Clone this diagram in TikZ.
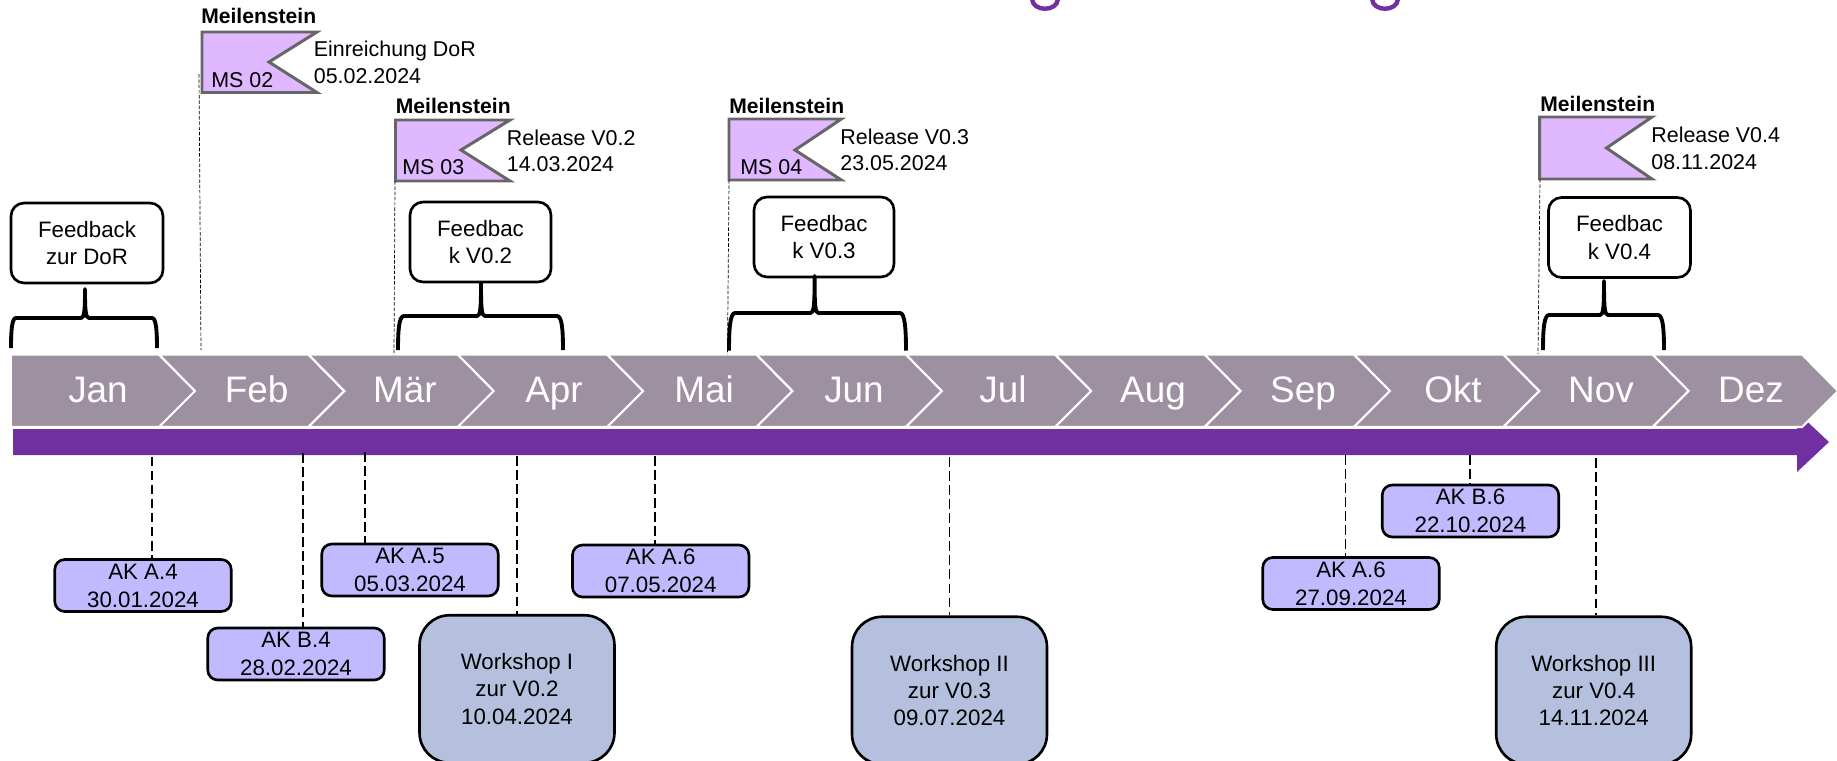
\documentclass[tikz,border=0pt]{standalone}
\usepackage{fontspec}
\setmainfont{Liberation Sans}

\definecolor{monthgrey}{HTML}{9D90A0}
\definecolor{arrowpurple}{HTML}{7030A0}
\definecolor{flagpurple}{HTML}{E0B8FF}
\definecolor{flagedge}{HTML}{666666}
\definecolor{akblue}{HTML}{C2BAFF}
\definecolor{workshopblue}{HTML}{B4C0DE}

\tikzset{
	month/.style={fill=monthgrey,draw=white,line width=1.2pt},
	monthlabel/.style={anchor=base,inner sep=0pt,text=white,font=\fontsize{21}{25}\selectfont},
	flag/.style={fill=flagpurple,draw=flagedge,line width=1.7pt},
	flagtitle/.style={anchor=west,inner sep=0pt,font=\fontsize{12}{14}\selectfont\bfseries},
	flagtext/.style={anchor=west,inner sep=0pt,align=left,font=\fontsize{12.2}{15}\selectfont},
	flagcode/.style={anchor=west,inner sep=0pt,font=\fontsize{12.2}{15}\selectfont},
	textbox/.style={draw=black,line width=1.5pt,inner sep=0pt,align=center,font=\fontsize{12.7}{15.5}\selectfont},
	feedback/.style={textbox,fill=white,rounded corners=0.26cm,minimum height=1.6cm},
	akbox/.style={textbox,fill=akblue,rounded corners=0.2cm,minimum width=3.53cm,minimum height=1.04cm,font=\fontsize{12.7}{16}\selectfont},
	workshop/.style={textbox,fill=workshopblue,rounded corners=0.6cm,minimum width=3.9cm,minimum height=2.95cm},
	leader/.style={draw=black,line width=0.9pt,dash pattern=on 5.5pt off 2.5pt},
	flagline/.style={draw=black,line width=0.4pt,dash pattern=on 2pt off 1pt},
	bracket/.style={draw=black,line width=2.2pt,line join=round},
	titlerest/.style={draw=arrowpurple,line width=2.5pt},
}

\begin{document}
\begin{tikzpicture}[x=0.02cm,y=-0.02cm]
	\useasboundingbox (0,0) rectangle (1837,761);

	% title remains
	\draw[titlerest] (1032,-6) -- (1032,-1) .. controls (1033,12) and (1057,12) .. (1058,-1) -- (1058,-6);
	\draw[titlerest] (1372,-6) -- (1372,-1) .. controls (1373,12) and (1397,12) .. (1398,-1) -- (1398,-6);

	% time arrow
	\fill[arrowpurple] (13,429) -- (1797,429) -- (1797,412) -- (1829,442) -- (1797,472) -- (1797,455) -- (13,455) -- cycle;

	% months
	\draw[month] (10.7,354.5) -- (159,354.5) -- (195,391) -- (159,427) -- (10.7,427) -- cycle;
	\draw[month] (159,354.5) -- (308.4,354.5) -- (344.4,391) -- (308.4,427) -- (159,427) -- (195,391) -- cycle;
	\draw[month,xshift=2.988cm] (159,354.5) -- (308.4,354.5) -- (344.4,391) -- (308.4,427) -- (159,427) -- (195,391) -- cycle;
	\draw[month,xshift=5.976cm] (159,354.5) -- (308.4,354.5) -- (344.4,391) -- (308.4,427) -- (159,427) -- (195,391) -- cycle;
	\draw[month,xshift=8.964cm] (159,354.5) -- (308.4,354.5) -- (344.4,391) -- (308.4,427) -- (159,427) -- (195,391) -- cycle;
	\draw[month,xshift=11.952cm] (159,354.5) -- (308.4,354.5) -- (344.4,391) -- (308.4,427) -- (159,427) -- (195,391) -- cycle;
	\draw[month,xshift=14.94cm] (159,354.5) -- (308.4,354.5) -- (344.4,391) -- (308.4,427) -- (159,427) -- (195,391) -- cycle;
	\draw[month,xshift=17.928cm] (159,354.5) -- (308.4,354.5) -- (344.4,391) -- (308.4,427) -- (159,427) -- (195,391) -- cycle;
	\draw[month,xshift=20.916cm] (159,354.5) -- (308.4,354.5) -- (344.4,391) -- (308.4,427) -- (159,427) -- (195,391) -- cycle;
	\draw[month,xshift=23.904cm] (159,354.5) -- (308.4,354.5) -- (344.4,391) -- (308.4,427) -- (159,427) -- (195,391) -- cycle;
	\draw[month,xshift=26.892cm] (159,354.5) -- (308.4,354.5) -- (344.4,391) -- (308.4,427) -- (159,427) -- (195,391) -- cycle;
	\draw[month,xshift=29.88cm] (159,354.5) -- (308.4,354.5) -- (344.4,391) -- (308.4,427) -- (159,427) -- (195,391) -- cycle;

	% month labels
	\node[monthlabel] (jan) at (98,402) {Jan};
	\node[monthlabel] (feb) at (256.6,402) {Feb};
	\node[monthlabel] (mar) at (405,402) {Mär};
	\node[monthlabel] (apr) at (554,402) {Apr};
	\node[monthlabel] (mai) at (704,402) {Mai};
	\node[monthlabel] (jun) at (854,402) {Jun};
	\node[monthlabel] (jul) at (1003,402) {Jul};
	\node[monthlabel] (aug) at (1153,402) {Aug};
	\node[monthlabel] (sep) at (1303,402) {Sep};
	\node[monthlabel] (okt) at (1453,402) {Okt};
	\node[monthlabel] (nov) at (1601,402) {Nov};
	\node[monthlabel] (dez) at (1751,402) {Dez};

	% milestones
	\draw[flag] (202,32) -- (317,32) -- (269,62) -- (317,92.5) -- (202,92.5) -- cycle;
	\draw[flag] (395.5,120) -- (510,120) -- (461,150) -- (510,181) -- (395.5,181) -- cycle;
	\draw[flag] (729,119) -- (841.4,119) -- (795,150) -- (841.4,180) -- (729,180) -- cycle;
	\draw[flag] (1539.7,117) -- (1652,117) -- (1606.5,148) -- (1652,179) -- (1539.7,179) -- cycle;

	\node[flagtitle] (title02) at (201,16) {Meilenstein};
	\node[flagtitle] (title03) at (395.5,106) {Meilenstein};
	\node[flagtitle] (title04) at (729,106) {Meilenstein};
	\node[flagtitle] (title05) at (1540,104) {Meilenstein};

	\node[flagcode] (code02) at (211,80) {MS 02};
	\node[flagcode] (code03) at (402,167) {MS 03};
	\node[flagcode] (code04) at (740,167) {MS 04};

	\node[flagtext] (text02) at (313.5,62.5) {Einreichung DoR\\05.02.2024};
	\node[flagtext] (text03) at (506.5,151) {Release V0.2\\14.03.2024};
	\node[flagtext] (text04) at (840,150) {Release V0.3\\23.05.2024};
	\node[flagtext] (text05) at (1651,148.5) {Release V0.4\\08.11.2024};

	% milestone lines
	\coordinate (flag02top) at (199,74);
	\coordinate (flag02end) at (201,350);
	\coordinate (flag03top) at (395,181);
	\coordinate (flag03end) at (394,355);
	\coordinate (flag04top) at (729,180);
	\coordinate (flag04end) at (727.5,354);
	\coordinate (flag05top) at (1540,179);
	\coordinate (flag05end) at (1538,354);
	\draw[flagline] (flag02top) -- (flag02end);
	\draw[flagline] (flag03top) -- (flag03end);
	\draw[flagline] (flag04top) -- (flag04end);
	\draw[flagline] (flag05top) -- (flag05end);

	% feedback
	\node[feedback,minimum width=3.04cm] (fbdor) at (87,243) {Feedback\\zur DoR};
	\node[feedback,minimum width=2.82cm] (fb02) at (480.5,242) {Feedbac\\k V0.2};
	\node[feedback,minimum width=2.8cm] (fb03) at (824,237) {Feedbac\\k V0.3};
	\node[feedback,minimum width=2.84cm] (fb04) at (1619.5,237.5) {Feedbac\\k V0.4};

	% braces
	\draw[bracket] (11,348) .. controls (11,330) and (12,318) .. (16,318) -- (81,318) .. controls (84.5,318) and (85,310) .. (85,289) .. controls (85,310) and (85.5,318) .. (89,318) -- (152,318) .. controls (156,318) and (157,330) .. (157,348);
	\draw[bracket] (398,350) .. controls (398,330) and (399,316) .. (404,316) -- (477,316) .. controls (480.5,316) and (481,308) .. (481,283) .. controls (481,308) and (481.5,316) .. (485,316) -- (557,316) .. controls (562,316) and (563,330) .. (563,350);
	\draw[bracket] (729,350.5) .. controls (729,330) and (730,313) .. (735,313) -- (810.5,313) .. controls (814,313) and (814.6,305) .. (814.6,276) .. controls (814.6,305) and (815,313) .. (818.5,313) -- (900,313) .. controls (905,313) and (906,330) .. (906,350.5);
	\draw[bracket] (1543,350) .. controls (1543,330) and (1544,315) .. (1549,315) -- (1600,315) .. controls (1603.5,315) and (1604,307) .. (1604,281) .. controls (1604,307) and (1604.5,315) .. (1608,315) -- (1658,315) .. controls (1663,315) and (1664,330) .. (1664,350);

	% meetings
	\node[akbox] (aka4) at (143,585.5) {AK A.4\\30.01.2024};
	\node[akbox] (akb4) at (296,654) {AK B.4\\28.02.2024};
	\node[akbox] (aka5) at (410,570) {AK A.5\\05.03.2024};
	\node[akbox] (aka6) at (660.7,571) {AK A.6\\07.05.2024};
	\node[akbox] (aka6b) at (1351,583.5) {AK A.6\\27.09.2024};
	\node[akbox] (akb6) at (1470.5,511) {AK B.6\\22.10.2024};

	% workshops
	\node[workshop] (ws1) at (517,689) {Workshop I\\zur V0.2\\10.04.2024};
	\node[workshop] (ws2) at (949.5,690.5) {Workshop II\\zur V0.3\\09.07.2024};
	\node[workshop] (ws3) at (1593.7,690.5) {Workshop III\\zur V0.4\\14.11.2024};

	% ticks
	\coordinate (taka4) at (152,456.5);
	\coordinate (takb4) at (303,453);
	\coordinate (taka5) at (365,452);
	\coordinate (tws1) at (517,456);
	\coordinate (taka6) at (655,456);
	\coordinate (tws2) at (949.5,457);
	\coordinate (taka6b) at (1345.6,455);
	\coordinate (takb6) at (1470,455);
	\coordinate (tws3) at (1596,458);
	\draw[leader] (taka4) -- (taka4 |- aka4.north);
	\draw[leader] (takb4) -- (takb4 |- akb4.north);
	\draw[leader] (taka5) -- (taka5 |- aka5.north);
	\draw[leader] (tws1) -- (tws1 |- ws1.north);
	\draw[leader] (taka6) -- (taka6 |- aka6.north);
	\draw[leader] (tws2) -- (tws2 |- ws2.north);
	\draw[leader] (taka6b) -- (taka6b |- aka6b.north);
	\draw[leader] (takb6) -- (takb6 |- akb6.north);
	\draw[leader] (tws3) -- (tws3 |- ws3.north);
\end{tikzpicture}
\end{document}
